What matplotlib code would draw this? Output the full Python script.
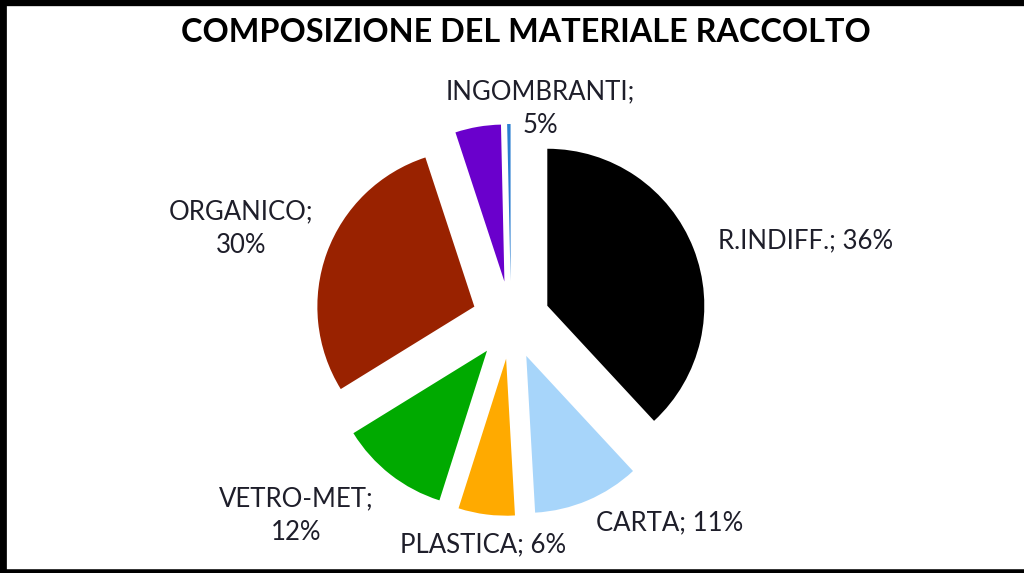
import matplotlib.pyplot as plt
from matplotlib.lines import Line2D

# data (shares; label texts as printed on the chart)
categories = ['R.INDIFF.', 'CARTA', 'PLASTICA', 'VETRO-MET', 'ORGANICO', 'INGOMBRANTI', '']
values = [38.1, 11.0, 5.8, 11.3, 28.75, 4.7, 0.35]
colors = ['#000000', '#A7D5FA', '#FFAA00', '#00AA00', '#992200', '#6A00CC', '#2A7FD0']
label_texts = ['R.INDIFF.; 36%', 'CARTA; 11%', 'PLASTICA; 6%', 'VETRO-MET;\n12%',
               'ORGANICO;\n30%', 'INGOMBRANTI;\n5%']

plt.rcParams['font.family'] = ['Lato', 'DejaVu Sans']

W, H = 1024, 573
fig = plt.figure(figsize=(W / 100, H / 100), dpi=100)
ax = fig.add_axes([0, 0, 1, 1])

# pie drawn in pixel units (y up); explode is in the same units
cx, cy, r = 511, H - 320, 157
ax.pie(values, colors=colors, startangle=90, counterclock=False,
       explode=[39] * len(values), radius=r, center=(cx, cy),
       wedgeprops=dict(linewidth=0), frame=True)
ax.set_xlim(0, W)
ax.set_ylim(0, H)
ax.axis('off')

# label positions (pixel coords from top-left) and alignment
label_pos = [(718, 241, 'left'), (596, 523, 'left'), (400, 545, 'left'),
             (296, 516, 'center'), (241, 229, 'center'), (540, 109, 'center')]
txt_color = '#1E1E2A'
for t, (x, y, ha) in zip(label_texts, label_pos):
    ax.text(x, H - y, t, ha=ha, va='center', fontsize=18.5, color=txt_color,
            linespacing=1.42)

ax.text(526, H - 32, 'COMPOSIZIONE DEL MATERIALE RACCOLTO', ha='center',
        va='center', fontsize=23.3, fontweight='bold', color='#000000')

# black frame on left, top and bottom
for xs, ys, lw in [([0.002, 0.002], [0, 1], 7), ([0, 1], [0.997, 0.997], 6),
                   ([0, 1], [0.002, 0.002], 4)]:
    fig.add_artist(Line2D(xs, ys, transform=fig.transFigure, color='black', linewidth=lw))

fig.savefig('out.png', dpi=100)
